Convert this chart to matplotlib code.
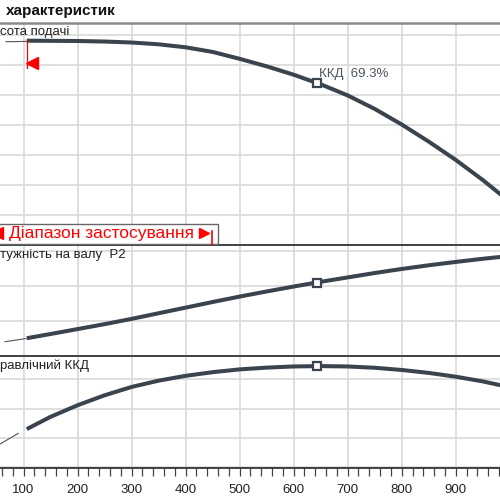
import numpy as np
import matplotlib
matplotlib.use("Agg")
import matplotlib.pyplot as plt
from matplotlib.patches import Rectangle
from matplotlib.lines import Line2D
from matplotlib.ticker import MultipleLocator

plt.rcParams['font.family'] = ['Liberation Sans', 'DejaVu Sans']

# --- дані ---
q = [106, 150, 200, 250, 300, 350, 400, 450, 500, 550, 600, 650, 700,
     750, 800, 850, 900, 950, 1000]
head = [33.97, 33.95, 33.92, 33.83, 33.67, 33.37, 32.87, 32.1, 30.95,
        29.7, 28.3, 26.7, 24.85, 22.6, 20.0, 17.15, 14.1, 10.75, 7.1]
power = [55.2, 56.4, 57.8, 59.2, 60.7, 62.3, 63.9, 65.5, 67.05, 68.5,
         69.9, 71.25, 72.5, 73.75, 74.9, 75.95, 76.9, 77.8, 78.6]
eff = [26.0, 34.4, 42.3, 49.1, 54.8, 59.1, 62.4, 64.9, 66.8, 68.0,
       68.8, 69.05, 68.8, 67.9, 66.4, 64.4, 61.8, 58.6, 54.6]

# тонкі ділянки поза робочим діапазоном
q_thin_h = [67.6, 106]
head_thin = [33.8, 33.85]
q_thin_p = [65.8, 104.6]
power_thin = [54.2, 55.1]
q_thin_e = [56.5, 90.4]
eff_thin = [15.8, 23.1]

# робоча точка
q_bep = 643
head_bep = 26.95
power_bep = 71.05
eff_bep = 69.05
eff_label = 'ККД  69.3%'

q_min = 106
range_bottom = 29.5

xticks = [100, 200, 300, 400, 500, 600, 700, 800, 900]

# --- оформлення ---
curve_c = '#3a444e'
grid_c = '#d9d9d9'
frame_c = '#333333'
red = '#ff0000'

fig = plt.figure(figsize=(5, 5), dpi=100)

def py(p):
    return 1 - p / 500.0

ax_h = fig.add_axes([0, py(244.5), 1, py(22.7) - py(244.5)])
ax_p = fig.add_axes([0, py(356.5), 1, py(244.5) - py(356.5)])
ax_e = fig.add_axes([0, py(467.7), 1, py(356.5) - py(467.7)])

ax_h.set_ylim(0, 36.97)
ax_p.set_ylim(50, 81.86)
ax_e.set_ylim(-0.35, 75.6)
ax_h.yaxis.set_major_locator(MultipleLocator(5))
ax_p.yaxis.set_major_locator(MultipleLocator(10))
ax_e.yaxis.set_major_locator(MultipleLocator(20))

for ax in (ax_h, ax_p, ax_e):
    ax.set_xlim(56.5, 981.9)
    ax.set_xticks(xticks)
    ax.xaxis.set_minor_locator(MultipleLocator(20))
    ax.grid(True, color=grid_c, lw=1.2)
    ax.set_axisbelow(True)
    ax.tick_params(axis='y', left=False, labelleft=False)
    for s in ('left', 'right', 'bottom'):
        ax.spines[s].set_visible(False)
    ax.spines['top'].set_color(frame_c)
    ax.spines['top'].set_linewidth(1.3)

ax_h.spines['top'].set_color('#8a8a8a')
ax_h.spines['top'].set_linewidth(1.8)

for ax in (ax_h, ax_p):
    ax.tick_params(axis='x', which='both', bottom=False, labelbottom=False)

ax_e.spines['bottom'].set_visible(True)
ax_e.spines['bottom'].set_color(frame_c)
ax_e.spines['bottom'].set_linewidth(1.3)
ax_e.tick_params(axis='x', which='both', direction='out', length=5.5,
                 width=0.9, color='#444444', labelsize=9.5,
                 labelcolor='#222222', pad=6)

# криві
ax_h.plot(q_thin_h, head_thin, color='#555555', lw=0.8)
ax_h.plot(q, head, color=curve_c, lw=2.9, solid_capstyle='butt',
          solid_joinstyle='round')
ax_p.plot(q_thin_p, power_thin, color='#555555', lw=0.8)
ax_p.plot(q, power, color=curve_c, lw=2.9, solid_capstyle='butt',
          solid_joinstyle='round')
ax_e.plot(q_thin_e, eff_thin, color='#555555', lw=0.8)
ax_e.plot(q, eff, color=curve_c, lw=2.9, solid_capstyle='butt',
          solid_joinstyle='round')

for ax, v in ((ax_h, head_bep), (ax_p, power_bep), (ax_e, eff_bep)):
    ax.plot([q_bep], [v], marker='s', ms=6, mfc='white', mec=curve_c,
            mew=1.6, zorder=5)

ax_h.annotate(eff_label, (q_bep, head_bep), xytext=(1.2, 6.3),
              textcoords='offset points', ha='left', va='center',
              fontsize=9.5, color='#4a5560')

# межа робочого діапазону
ax_h.plot([q_min, q_min], [head[0], range_bottom], color=red, lw=0.9)
ax_h.plot([q_min + 10], [30.3], marker='<', ms=8, color=red, mec=red)

# підписи панелей
fig.text(0.0, py(32.5), 'сота подачі', fontsize=9.5, va='center',
         ha='left', color='#222222')
fig.text(0.0, py(255), 'тужність на валу  P2', fontsize=9.5, va='center',
         ha='left', color='#222222')
fig.text(0.0, py(365.5), 'равлічний ККД', fontsize=9.5, va='center',
         ha='left', color='#222222')
fig.text(6 / 500, py(10.5), 'характеристик', fontsize=11,
         fontweight='bold', va='center', ha='left', color='#111111')

# легенда діапазону застосування
fig.add_artist(Rectangle((-0.02, py(244.3)), 218.3 / 500 + 0.02,
                         py(224) - py(244.3), transform=fig.transFigure,
                         facecolor='white', edgecolor='#666666', lw=1.0,
                         zorder=6))
fig.add_artist(Line2D([-3.5 / 500], [py(233.3)], marker='<', ms=8,
                      color=red, transform=fig.transFigure, zorder=7))
fig.add_artist(Line2D([204 / 500], [py(233.3)], marker='>', ms=7.5,
                      color=red, transform=fig.transFigure, zorder=7))
fig.add_artist(Line2D([212.3 / 500, 212.3 / 500], [py(230.7), py(244)],
                      color=red, lw=1.2, transform=fig.transFigure,
                      zorder=7))
fig.text(9.3 / 500, py(233.5), 'Діапазон застосування', fontsize=12.5,
         color=red, va='center', ha='left', zorder=8)

fig.savefig('out.png', dpi=100)
